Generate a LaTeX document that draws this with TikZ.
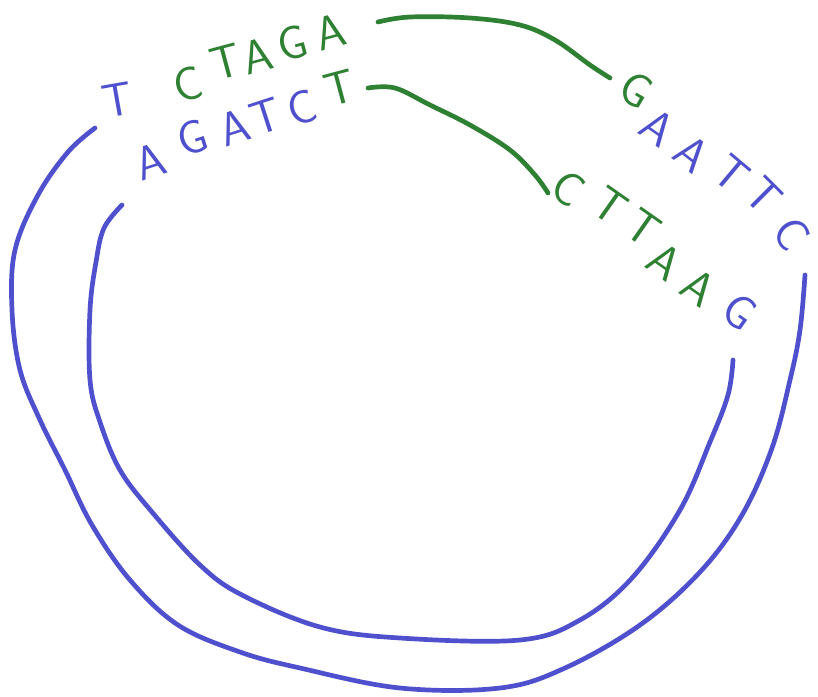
\documentclass[tikz,border=0pt]{standalone}
\definecolor{ringblue}{RGB}{78,80,206}
\definecolor{siteGreen}{RGB}{46,128,50}
\begin{document}
\begin{tikzpicture}[
    x=0.03cm, y=-0.03cm,
    strand/.style={line width=4pt, line cap=round, line join=round},
    base/.style={font=\sffamily\fontsize{40}{40}\selectfont, inner sep=0pt},
    blueBase/.style={base, text=ringblue},
    greenBase/.style={base, text=siteGreen}
]
\useasboundingbox (0,0) rectangle (818,696);

% outer strand
\draw[strand, ringblue] plot[smooth, tension=0.6] coordinates {
    (95,128) (68,152) (38,195) (15,250) (12,310) (20,370) (40,420) (65,470)
    (92,525) (130,580) (178,625) (240,652) (300,668) (400,688) (500,688)
    (565,668) (640,625) (700,572) (742,515) (772,448) (790,380) (800,330) (805,275)};
% inner strand
\draw[strand, ringblue] plot[smooth, tension=0.6] coordinates {
    (122,205) (104,228) (96,262) (90,310) (90,380) (100,422) (120,470)
    (152,512) (200,565) (242,595) (320,627) (400,638) (520,640) (580,620)
    (632,578) (680,510) (710,442) (728,395) (733,360)};

% outer sequence
\node[blueBase, rotate=10] (oT) at (117,100) {T};
\node[greenBase, rotate=15] (oC) at (188,84) {C};
\node[greenBase, rotate=15] (oT2) at (226,62) {T};
\node[greenBase, rotate=15] (oA) at (257,56) {A};
\node[greenBase, rotate=15] (oG) at (293,43) {G};
\node[greenBase, rotate=15] (oA2) at (330,32) {A};
\node[greenBase, rotate=-30] (oG2) at (636,90) {G};
\node[blueBase, rotate=-35] (oA3) at (658,128) {A};
\node[blueBase, rotate=-38] (oA4) at (692,154) {A};
\node[blueBase, rotate=-40] (oT3) at (731,174) {T};
\node[blueBase, rotate=-45] (oT4) at (764,196) {T};
\node[blueBase, rotate=-55] (oC2) at (792,234) {C};

% inner sequence
\node[blueBase, rotate=18] (iA) at (150,162) {A};
\node[blueBase, rotate=18] (iG) at (192,138) {G};
\node[blueBase, rotate=18] (iA2) at (234,128) {A};
\node[blueBase, rotate=18] (iT) at (266,116) {T};
\node[blueBase, rotate=18] (iC) at (302,108) {C};
\node[greenBase, rotate=15] (iT2) at (340,88) {T};
\node[greenBase, rotate=-35] (iC2) at (568,188) {C};
\node[greenBase, rotate=-35] (iT3) at (610,206) {T};
\node[greenBase, rotate=-35] (iT4) at (643,228) {T};
\node[greenBase, rotate=-35] (iA3) at (665,262) {A};
\node[greenBase, rotate=-35] (iA4) at (699,288) {A};
\node[blueBase, rotate=-35] (iG2) at (740,312) {G};

% green links
\draw[strand, siteGreen] plot[smooth, tension=0.6] coordinates {
    (378,22) (410,17) (470,18) (520,25) (555,40) (590,65) (610,78)};
\draw[strand, siteGreen] plot[smooth, tension=0.6] coordinates {
    (368,88) (395,88) (430,105) (470,125) (510,150) (535,175) (548,193)};
\end{tikzpicture}
\end{document}
